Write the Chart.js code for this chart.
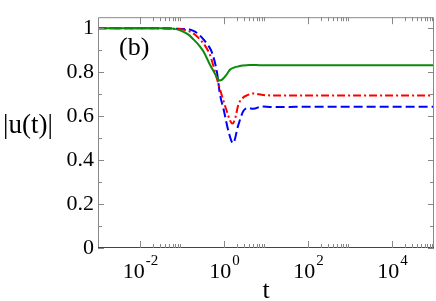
<!DOCTYPE html>
<html>
<head>
<meta charset="utf-8">
<script src="https://cdn.jsdelivr.net/npm/chart.js@4/dist/chart.umd.min.js"></script>
<style>
  html, body { margin: 0; padding: 0; background: #fff; }
  canvas { display: block; }
</style>
</head>
<body>
<canvas id="uChart" width="436" height="301"></canvas>
<script>
// time values and |u(t)|, one pair of arrays per curve
const tGreen = [0.001, 0.01, 0.03, 0.06, 0.09, 0.14, 0.19, 0.26, 0.33, 0.46, 0.6, 0.7, 0.78, 0.9, 1.16, 1.4, 1.8, 2.2, 2.8, 4, 6, 10, 100, 1e5];
const uGreen = [1, 1, 1, 0.998, 0.99, 0.972, 0.948, 0.92, 0.892, 0.835, 0.795, 0.772, 0.762, 0.766, 0.79, 0.812, 0.822, 0.826, 0.83, 0.833, 0.832, 0.831, 0.831, 0.831];

const tRed = [0.001, 0.01, 0.03, 0.068, 0.11, 0.155, 0.2, 0.268, 0.36, 0.464, 0.67, 0.96, 1.2, 1.39, 1.61, 1.85, 2.19, 2.7, 3.47, 5, 8.6, 18, 100, 1e5];
const uRed = [1, 1, 1, 0.997, 0.993, 0.984, 0.972, 0.949, 0.918, 0.878, 0.774, 0.672, 0.615, 0.58, 0.566, 0.59, 0.651, 0.68, 0.694, 0.703, 0.696, 0.694, 0.694, 0.694];

const tBlue = [0.001, 0.01, 0.03, 0.07, 0.12, 0.17, 0.24, 0.324, 0.42, 0.51, 0.68, 0.8, 0.98, 1.3, 1.64, 2.19, 2.89, 3.8, 5, 7.9, 13.7, 37, 100, 1e5];
const uBlue = [1, 1, 1, 0.998, 0.996, 0.991, 0.975, 0.949, 0.922, 0.892, 0.8, 0.70, 0.63, 0.525, 0.477, 0.559, 0.623, 0.637, 0.633, 0.644, 0.641, 0.642, 0.643, 0.643];

// axis ticks
const xMajor = [1e-2, 1e0, 1e2, 1e4];
const xExponents = ["-2", "0", "2", "4"];
const yMajor = [0, 0.2, 0.4, 0.6, 0.8, 1];
const yMinor = [0.1, 0.3, 0.5, 0.7, 0.9];

const SERIF = "'Liberation Serif', 'DejaVu Serif', serif";

function toPoints(ts, us) {
  return ts.map((t, i) => ({ x: t, y: us[i] }));
}

/**
 * Draws the frame, inward tick marks, the 10^n labels and the titles
 */
const framePlugin = {
  id: "frame",
  afterDraw(chart) {
    const ctx = chart.ctx;
    const area = chart.chartArea;
    const xs = chart.scales.x;
    const ys = chart.scales.y;

    ctx.save();
    ctx.lineWidth = 1;

    // box
    ctx.strokeStyle = "#888";
    ctx.beginPath();
    ctx.moveTo(area.left + 0.5, area.bottom);
    ctx.lineTo(area.left + 0.5, area.top + 0.5);
    ctx.lineTo(area.right - 0.5, area.top + 0.5);
    ctx.lineTo(area.right - 0.5, area.bottom);
    ctx.stroke();
    ctx.strokeStyle = "#444";
    ctx.beginPath();
    ctx.moveTo(area.left, area.bottom - 0.5);
    ctx.lineTo(area.right, area.bottom - 0.5);
    ctx.stroke();

    // x ticks (bottom and top)
    ctx.strokeStyle = "#888";
    const xTick = (v, len) => {
      const px = Math.round(xs.getPixelForValue(v)) + 0.5;
      ctx.beginPath();
      ctx.moveTo(px, area.bottom);
      ctx.lineTo(px, area.bottom - len);
      ctx.moveTo(px, area.top);
      ctx.lineTo(px, area.top + len);
      ctx.stroke();
    };
    xMajor.forEach((m) => {
      xTick(m, 7);
      for (let k = 2; k <= 9; k++) xTick(k * m, 4);
    });

    // y ticks (left and right)
    const yTick = (v, len) => {
      const py = Math.round(ys.getPixelForValue(v)) + 0.5;
      ctx.beginPath();
      ctx.moveTo(area.left, py);
      ctx.lineTo(area.left + len, py);
      ctx.moveTo(area.right, py);
      ctx.lineTo(area.right - len, py);
      ctx.stroke();
    };
    yMajor.forEach((v) => yTick(v, 6));
    yMinor.forEach((v) => yTick(v, 4));

    // x labels 10^n
    ctx.fillStyle = "#000";
    ctx.textBaseline = "alphabetic";
    ctx.textAlign = "left";
    xMajor.forEach((m, i) => {
      const px = xs.getPixelForValue(m);
      ctx.font = "22px " + SERIF;
      const wBase = ctx.measureText("10").width;
      ctx.font = "15px " + SERIF;
      const wExp = ctx.measureText(xExponents[i]).width;
      const x0 = px - (wBase + wExp) / 2;
      ctx.font = "22px " + SERIF;
      ctx.fillText("10", x0, 278);
      ctx.font = "15px " + SERIF;
      ctx.fillText(xExponents[i], x0 + wBase + 1, 265);
    });

    // axis titles and panel label
    ctx.textAlign = "center";
    ctx.font = "26px " + SERIF;
    ctx.fillText("t", (area.left + area.right) / 2, 298);
    ctx.font = "27px " + SERIF;
    ctx.fillText("|u(t)|", 28, 133);
    ctx.textAlign = "left";
    ctx.font = "26px " + SERIF;
    ctx.fillText("(b)", 119, 55);

    ctx.restore();
  },
};

new Chart(document.getElementById("uChart").getContext("2d"), {
  type: "line",
  data: {
    datasets: [
      {
        label: "green",
        data: toPoints(tGreen, uGreen),
        borderColor: "#0b8a0b",
        borderWidth: 2,
      },
      {
        label: "red",
        data: toPoints(tRed, uRed),
        borderColor: "#ff0000",
        borderWidth: 2,
        borderDash: [8, 3, 2, 3],
      },
      {
        label: "blue",
        data: toPoints(tBlue, uBlue),
        borderColor: "#0000ff",
        borderWidth: 2,
        borderDash: [9, 4],
      },
    ],
  },
  options: {
    responsive: false,
    animation: false,
    layout: { padding: { top: 1, right: 2, left: 0, bottom: 0 } },
    elements: {
      point: { radius: 0 },
      line: { cubicInterpolationMode: "monotone", fill: false },
    },
    plugins: {
      legend: { display: false },
      tooltip: { enabled: false },
    },
    scales: {
      x: {
        type: "logarithmic",
        min: 1e-3,
        max: 1e5,
        grid: { display: false, drawTicks: false },
        border: { display: false },
        ticks: { display: false },
        afterFit(scale) {
          scale.height = 53;
        },
      },
      y: {
        type: "linear",
        min: 0,
        max: 1.05,
        grid: { display: false, drawTicks: false },
        border: { display: false },
        afterBuildTicks(scale) {
          scale.ticks = yMajor.map((v) => ({ value: v }));
        },
        ticks: {
          color: "#000",
          padding: 4,
          font: { family: SERIF, size: 22 },
          callback: (v) => String(v),
        },
        afterFit(scale) {
          scale.width = 98;
        },
      },
    },
  },
  plugins: [framePlugin],
});
</script>
</body>
</html>
